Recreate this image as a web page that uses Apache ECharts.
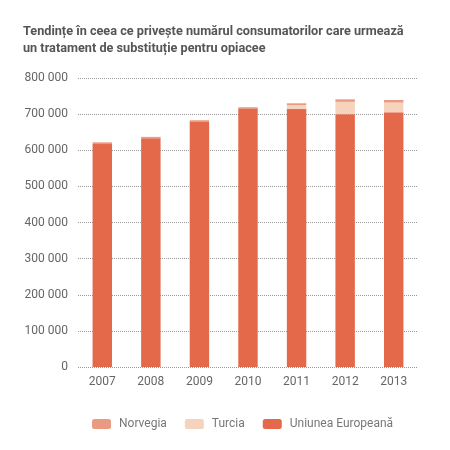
<!DOCTYPE html>
<html>
<head>
<meta charset="utf-8">
<script src="https://cdn.jsdelivr.net/npm/echarts@6/dist/echarts.min.js"></script>
<style>
  html, body { margin: 0; padding: 0; background: #fff; }
  #chart { width: 450px; height: 450px; }
</style>
</head>
<body>
<div id="chart"></div>
<script>
// Anii si valorile
const years = ["2007", "2008", "2009", "2010", "2011", "2012", "2013"];
const ue = [617000, 633000, 678000, 714000, 714000, 700000, 705000];
const turcia = [0, 0, 0, 0, 11000, 34000, 27000];
const norvegia = [5000, 4000, 5000, 5000, 5000, 7000, 7000];

const chart = echarts.init(document.getElementById("chart"));

const fmt = (v) => String(v).replace(/\B(?=(\d{3})+(?!\d))/g, " ");

const option = {
  backgroundColor: "#fff",
  animation: false,
  title: {
    text: "Tendințe în ceea ce privește numărul consumatorilor care urmează\nun tratament de substituție pentru opiacee",
    left: 18,
    top: 18,
    textStyle: {
      fontFamily: "Roboto",
      fontSize: 12.7,
      fontWeight: "bold",
      color: "#555",
      lineHeight: 17,
    },
  },
  legend: {
    bottom: 15,
    left: 87,
    itemWidth: 19,
    itemHeight: 10,
    itemGap: 18,
    selectedMode: false,
    data: ["Norvegia", "Turcia", "Uniunea Europeană"],
    textStyle: {
      color: "#777",
      fontSize: 12,
      fontFamily: "Roboto",
      padding: [0, 0, 0, 3],
    },
  },
  grid: { left: 78, right: 32, top: 78, bottom: 83 },
  xAxis: {
    type: "category",
    data: years,
    axisLine: { show: false },
    axisTick: { show: false },
    axisLabel: { color: "#666", fontSize: 12, margin: 9, fontFamily: "Roboto" },
  },
  yAxis: {
    type: "value",
    min: 0,
    max: 800000,
    interval: 100000,
    axisLabel: {
      color: "#666",
      fontSize: 12,
      margin: 10,
      fontFamily: "Roboto",
      formatter: fmt,
    },
    splitLine: { lineStyle: { color: "#999", type: "dotted", width: 1 } },
  },
  series: [
    {
      name: "Uniunea Europeană",
      type: "bar",
      stack: "total",
      barWidth: "40%",
      itemStyle: { color: "#e4694a" },
      data: ue,
    },
    {
      name: "Turcia",
      type: "bar",
      stack: "total",
      itemStyle: { color: "#f6d3bd" },
      data: turcia,
    },
    {
      name: "Norvegia",
      type: "bar",
      stack: "total",
      itemStyle: { color: "#e99a80" },
      data: norvegia,
    },
  ],
};

chart.setOption(option);
</script>
</body>
</html>
